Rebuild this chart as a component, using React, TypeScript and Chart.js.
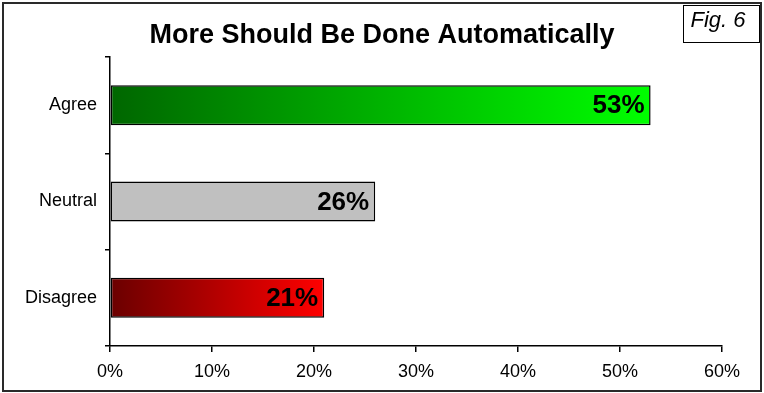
import React, { useEffect, useRef } from 'react';
import { Chart, registerables } from 'chart.js';

Chart.register(...registerables);

const TITLE = 'More Should Be Done Automatically';
const FIG_LABEL = 'Fig. 6';
const categories = ['Agree', 'Neutral', 'Disagree'];
const values = [53, 26, 21];
const xMin = 0;
const xMax = 60;
const xStep = 10;

const gradientStarts = ['#006600', '#c0c0c0', '#6a0000'];
const gradientEnds = ['#00ff00', '#c0c0c0', '#ff0000'];

const FONT = "'Liberation Sans', Arial, Helvetica, sans-serif";

export default function App() {
  const ref = useRef<HTMLCanvasElement>(null);

  useEffect(() => {
    const canvas = ref.current;
    if (!canvas) return;

    const titleSpanPlugin = {
      id: 'titleSpan',
      afterLayout(chart: any) {
        if (chart.titleBlock) {
          chart.titleBlock.left = 0;
          chart.titleBlock.right = chart.width;
        }
      },
    };

    const framePlugin = {
      id: 'frame',
      afterDraw(chart: any) {
        const ctx = chart.ctx;
        ctx.save();
        ctx.strokeStyle = '#2a2a2a';
        ctx.lineWidth = 2;
        ctx.strokeRect(3, 3, 758, 388);
        // Fig box
        ctx.fillStyle = '#ffffff';
        ctx.fillRect(683.5, 5.5, 76, 37);
        ctx.strokeStyle = '#000000';
        ctx.lineWidth = 1;
        ctx.strokeRect(683.5, 5.5, 76, 37);
        ctx.fillStyle = '#000000';
        ctx.font = `italic 22px ${FONT}`;
        ctx.textAlign = 'center';
        ctx.textBaseline = 'middle';
        ctx.fillText(FIG_LABEL, 718, 21);
        ctx.restore();
      },
    };

    const valueLabelPlugin = {
      id: 'valueLabels',
      afterDatasetsDraw(chart: any) {
        const ctx = chart.ctx;
        const meta = chart.getDatasetMeta(0);
        ctx.save();
        ctx.fillStyle = '#000000';
        ctx.font = `bold 26px ${FONT}`;
        ctx.textAlign = 'right';
        ctx.textBaseline = 'middle';
        meta.data.forEach((bar: any, i: number) => {
          ctx.fillText(values[i] + '%', bar.x - 6, bar.y + 1);
        });
        ctx.restore();
      },
    };

    const chart = new Chart(canvas, {
      type: 'bar',
      data: {
        labels: categories,
        datasets: [
          {
            data: values,
            backgroundColor: (c: any) => {
              const i = c.dataIndex ?? 0;
              const chartRef = c.chart;
              const xs = chartRef.scales?.x;
              if (!chartRef.chartArea || !xs) return gradientStarts[i];
              const x0 = xs.getPixelForValue(0);
              const x1 = xs.getPixelForValue(values[i]);
              const g = chartRef.ctx.createLinearGradient(x0, 0, x1, 0);
              g.addColorStop(0, gradientStarts[i]);
              g.addColorStop(1, gradientEnds[i]);
              return g;
            },
            borderColor: '#000000',
            borderWidth: 1.5,
            borderSkipped: false,
            categoryPercentage: 1,
            barPercentage: 0.415,
          },
        ],
      },
      options: {
        indexAxis: 'y',
        responsive: false,
        animation: false,
        events: [],
        layout: { padding: { left: 0, right: 42, top: 0, bottom: 0 } },
        plugins: {
          legend: { display: false },
          tooltip: { enabled: false },
          title: {
            display: true,
            text: TITLE,
            color: '#000000',
            font: { family: FONT, size: 27, weight: 'bold', lineHeight: 1.2 },
            padding: { top: 19.8, bottom: 4.8 },
          },
        },
        scales: {
          x: {
            type: 'linear',
            min: xMin,
            max: xMax,
            ticks: {
              stepSize: xStep,
              color: '#000000',
              font: { family: FONT, size: 18 },
              padding: 9,
              callback: (v: any) => v + '%',
              maxRotation: 0,
            },
            grid: {
              drawOnChartArea: false,
              drawTicks: true,
              tickLength: 6,
              color: '#000000',
              lineWidth: 1.5,
            },
            border: { display: true, color: '#000000', width: 1.5 },
            afterFit: (s: any) => {
              s.height = 47;
            },
          },
          y: {
            type: 'category',
            ticks: {
              color: '#000000',
              font: { family: FONT, size: 18 },
              padding: 8,
            },
            grid: {
              offset: true,
              drawOnChartArea: false,
              drawTicks: true,
              tickLength: 5,
              color: '#000000',
              lineWidth: 1.5,
            },
            border: { display: true, color: '#000000', width: 1.5 },
            afterFit: (s: any) => {
              s.width = 110;
            },
          },
        },
      },
      plugins: [titleSpanPlugin, valueLabelPlugin, framePlugin],
    } as any);

    return () => chart.destroy();
  }, []);

  return (
    <div style={{ position: 'absolute', left: 0, top: 0, width: 764, height: 393, background: '#ffffff' }}>
      <canvas ref={ref} width={764} height={393} style={{ display: 'block' }} />
    </div>
  );
}
